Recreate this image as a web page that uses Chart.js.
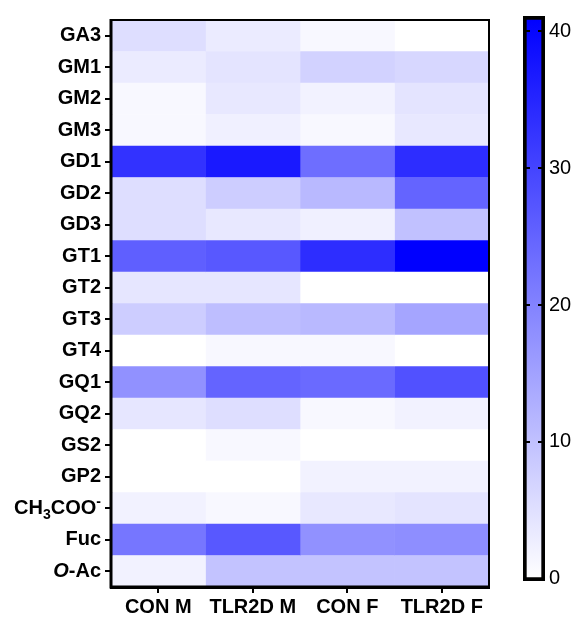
<!DOCTYPE html>
<html>
<head>
<meta charset="utf-8">
<script src="https://cdn.jsdelivr.net/npm/chart.js@4.4.1/dist/chart.umd.min.js"></script>
<style>
  html, body { margin: 0; padding: 0; background: #fff; }
  #wrap { position: relative; width: 576px; height: 617px; }
  #heat { position: absolute; left: 0; top: 0; }
  #bar { position: absolute; left: 500px; top: 0; }
</style>
</head>
<body>
<div id="wrap">
  <canvas id="heat" width="576" height="617"></canvas>
  <canvas id="bar" width="76" height="617"></canvas>
</div>
<script>
// Rows (top to bottom) and columns of the heatmap
const rows = ['GA3', 'GM1', 'GM2', 'GM3', 'GD1', 'GD2', 'GD3', 'GT1', 'GT2', 'GT3',
              'GT4', 'GQ1', 'GQ2', 'GS2', 'GP2', 'CH3COO-', 'Fuc', 'O-Ac'];
const columns = ['CON M', 'TLR2D M', 'CON F', 'TLR2D F'];

// Values per column
const conM   = [5.3, 3.2, 1.1, 1.1, 33, 5.3, 5.3, 25.7, 4, 8, 0, 17.7, 4, 0, 0, 2.1, 22, 2.1];
const tlr2dM = [3.2, 4.3, 3.7, 2.4, 37, 8, 3.7, 26.8, 4, 10.5, 1.1, 25, 5.3, 1.1, 0, 1.1, 26.8, 9.6];
const conF   = [1.1, 7.2, 2.1, 1.1, 23.3, 11.3, 2.4, 33.8, 0, 11.3, 1.1, 24, 1.1, 0, 2.1, 3.7, 17.7, 9.6];
const tlr2dF = [0, 6.4, 4.3, 3.7, 33.8, 25, 10, 41, 0, 14.5, 0, 28, 2.1, 0, 2.1, 4.3, 18.2, 9.6];
const seriesValues = [conM, tlr2dM, conF, tlr2dF];

// Colour bar
const colorMax = 41;
const colorTicks = [0, 10, 20, 30, 40];

const FONT = 'Liberation Sans, Arial, Helvetica, sans-serif';

function valueColor(v) {
    const t = Math.max(0, Math.min(1, v / colorMax));
    const c = Math.round(255 * (1 - t));
    return `rgb(${c}, ${c}, 255)`;
}

// labels that need sub/superscript or italics
const richLabels = {
    'CH3COO-': [{ t: 'CH' }, { t: '3', sub: true }, { t: 'COO' }, { t: '-', sup: true }],
    'O-Ac': [{ t: 'O', italic: true }, { t: '-Ac' }]
};

const rowLabelPlugin = {
    id: 'rowLabels',
    afterDraw(chart) {
        const scale = chart.scales.y;
        const ctx = chart.ctx;
        ctx.save();
        ctx.fillStyle = '#000';
        ctx.textBaseline = 'middle';
        rows.forEach((label, i) => {
            const y = scale.getPixelForTick(i);
            const parts = richLabels[label] || [{ t: label }];
            const fontOf = p => {
                const size = (p.sub || p.sup) ? 14 : 20;
                return `${p.italic ? 'italic ' : ''}bold ${size}px ${FONT}`;
            };
            let total = 0;
            parts.forEach(p => { ctx.font = fontOf(p); total += ctx.measureText(p.t).width; });
            let x = scale.right - 10 - total;
            parts.forEach(p => {
                ctx.font = fontOf(p);
                const dy = p.sub ? 7 : (p.sup ? -6 : 0);
                ctx.textAlign = 'left';
                ctx.fillText(p.t, x, y + dy);
                x += ctx.measureText(p.t).width;
            });
        });
        ctx.restore();
    }
};

const framePlugin = {
    id: 'frame',
    afterDatasetsDraw(chart) {
        const { left, top, right, bottom } = chart.chartArea;
        const ctx = chart.ctx;
        ctx.save();
        ctx.strokeStyle = '#000';
        ctx.lineWidth = 2;
        ctx.strokeRect(left, top, right - left, bottom - top);
        ctx.lineWidth = 3;
        ctx.beginPath();
        ctx.moveTo(left, top - 1);
        ctx.lineTo(left, bottom);
        ctx.lineTo(right + 1, bottom);
        ctx.stroke();
        ctx.restore();
    }
};

const heatDatasets = columns.map((name, c) => ({
    label: name,
    data: rows.map(() => [c, c + 1]),
    backgroundColor: seriesValues[c].map(valueColor),
    borderWidth: 0,
    barPercentage: 1,
    categoryPercentage: 1,
    grouped: false
}));

new Chart(document.getElementById('heat'), {
    type: 'bar',
    data: { labels: rows, datasets: heatDatasets },
    options: {
        indexAxis: 'y',
        responsive: false,
        animation: false,
        layout: { padding: { left: 0, top: 20, right: 87, bottom: 0 } },
        plugins: { legend: { display: false }, tooltip: { enabled: false } },
        scales: {
            x: {
                type: 'linear',
                min: 0,
                max: columns.length,
                afterBuildTicks: s => { s.ticks = columns.map((_, i) => ({ value: i + 0.5 })); },
                afterFit: s => { s.height = 30; },
                ticks: {
                    color: '#000',
                    font: { family: FONT, size: 20, weight: 'bold' },
                    padding: 2,
                    maxRotation: 0,
                    autoSkip: false,
                    callback: (v, i) => columns[i]
                },
                grid: { drawOnChartArea: false, color: '#000', lineWidth: 2, tickLength: 6 },
                border: { color: '#000', width: 3 }
            },
            y: {
                type: 'category',
                afterFit: s => { s.width = 111; },
                ticks: { color: 'rgba(0,0,0,0)', font: { family: FONT, size: 20, weight: 'bold' } },
                grid: { drawOnChartArea: false, offset: false, color: '#000', lineWidth: 2, tickLength: 6 },
                border: { color: '#000', width: 3 }
            }
        }
    },
    plugins: [rowLabelPlugin, framePlugin]
});

// Colour bar drawn as one floating bar with a gradient fill
const barMin = -0.15;
const barMax = 41.1;

new Chart(document.getElementById('bar'), {
    type: 'bar',
    data: {
        labels: [''],
        datasets: [{
            data: [[barMin, barMax]],
            backgroundColor: context => {
                const chart = context.chart;
                if (!chart.chartArea) return 'rgba(0,0,255,0.5)';
                const y = chart.scales.y;
                const g = chart.ctx.createLinearGradient(0, y.getPixelForValue(0), 0, y.getPixelForValue(colorMax));
                g.addColorStop(0, '#ffffff');
                g.addColorStop(1, '#0000ff');
                return g;
            },
            borderColor: '#000',
            borderWidth: 4,
            borderSkipped: false,
            barPercentage: 1,
            categoryPercentage: 1
        }]
    },
    options: {
        responsive: false,
        animation: false,
        layout: { padding: { left: 23, top: 13, right: 0, bottom: 36 } },
        plugins: { legend: { display: false }, tooltip: { enabled: false } },
        scales: {
            x: { display: false },
            y: {
                position: 'right',
                min: barMin,
                max: barMax,
                afterBuildTicks: s => { s.ticks = colorTicks.map(v => ({ value: v })); },
                afterFit: s => { s.width = 31; },
                ticks: { color: '#000', font: { family: FONT, size: 20 }, padding: 4 },
                grid: { drawOnChartArea: true, drawTicks: false, color: '#000', lineWidth: 2, z: 1 },
                border: { display: false, dash: [7, 8] }
            }
        }
    }
});
</script>
</body>
</html>
